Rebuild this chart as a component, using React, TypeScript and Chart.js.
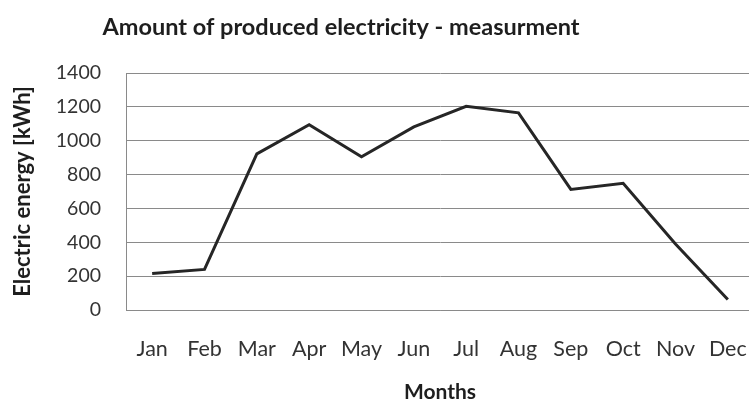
import React, { useEffect, useRef } from "react";
import { Chart, registerables } from "chart.js";

Chart.register(...registerables);

// Monthly produced electricity (kWh)
const months = ["Jan", "Feb", "Mar", "Apr", "May", "Jun", "Jul", "Aug", "Sep", "Oct", "Nov", "Dec"];
const energyKWh = [215, 240, 922, 1095, 905, 1082, 1203, 1165, 712, 748, 390, 62];
const yTicks = [0, 200, 400, 600, 800, 1000, 1200, 1400];

const chartTitle = "Amount of produced electricity - measurment";
const xTitle = "Months";
const yTitle = "Electric energy [kWh]";

const FONT = "Lato, 'Open Sans', 'DejaVu Sans', sans-serif";
const TEXT = "#333333";
const GRID = "#8a8a8a";

// Title drawn centred over the left part of the figure
const titlePlugin = {
  id: "topTitle",
  afterDraw(chart: Chart) {
    const { ctx } = chart;
    ctx.save();
    ctx.font = `bold 23.5px ${FONT}`;
    ctx.fillStyle = "#1e1e1e";
    ctx.textAlign = "center";
    ctx.textBaseline = "alphabetic";
    ctx.fillText(chartTitle, 341, 35);
    ctx.restore();
  },
};

export default function App() {
  const canvasRef = useRef<HTMLCanvasElement | null>(null);

  useEffect(() => {
    const canvas = canvasRef.current;
    if (!canvas) return;
    const chart = new Chart(canvas, {
      type: "line",
      data: {
        labels: months,
        datasets: [
          {
            data: energyKWh,
            borderColor: "#262626",
            borderWidth: 3,
            pointRadius: 0,
            tension: 0,
            fill: false,
          },
        ],
      },
      options: {
        responsive: false,
        animation: false,
        devicePixelRatio: 1,
        layout: { padding: { top: 73, left: 0, right: 0, bottom: 0 } },
        plugins: {
          legend: { display: false },
          title: { display: false },
          tooltip: { enabled: false },
        },
        scales: {
          x: {
            type: "category",
            offset: true,
            // tick length (not label padding) keeps the labels low without
            // shrinking the plot horizontally
            grid: { display: false, drawTicks: true, tickLength: 24 },
            border: { display: true, color: GRID, width: 1 },
            ticks: {
              color: TEXT,
              font: { family: FONT, size: 21.5 },
              padding: 2,
              maxRotation: 0,
              autoSkip: false,
            },
            title: {
              display: true,
              text: xTitle,
              color: "#1e1e1e",
              font: { family: FONT, size: 21, weight: "bold" },
              padding: { top: 0, bottom: 0 },
            },
            afterFit(scale: any) {
              scale.height = 95;
            },
          },
          y: {
            min: 0,
            max: 1400,
            afterBuildTicks(scale: any) {
              scale.ticks = yTicks.map((v) => ({ value: v }));
            },
            grid: { color: GRID, lineWidth: 1, drawTicks: false },
            border: { display: true, color: GRID, width: 1 },
            ticks: {
              color: TEXT,
              font: { family: FONT, size: 19.5 },
              padding: 25,
              callback: (value: any) => String(value),
            },
            title: {
              display: true,
              text: yTitle,
              color: "#1e1e1e",
              font: { family: FONT, size: 22, weight: "bold" },
              padding: { top: 10, bottom: 0 },
            },
            afterFit(scale: any) {
              scale.width = 126;
            },
          },
        },
      },
      plugins: [titlePlugin],
    });
    return () => chart.destroy();
  }, []);

  return (
    <div
      style={{
        position: "fixed",
        left: 0,
        top: 0,
        width: 749,
        height: 405,
        overflow: "hidden",
        background: "#ffffff",
      }}
    >
      <canvas ref={canvasRef} width={754} height={405} style={{ display: "block" }} />
    </div>
  );
}
